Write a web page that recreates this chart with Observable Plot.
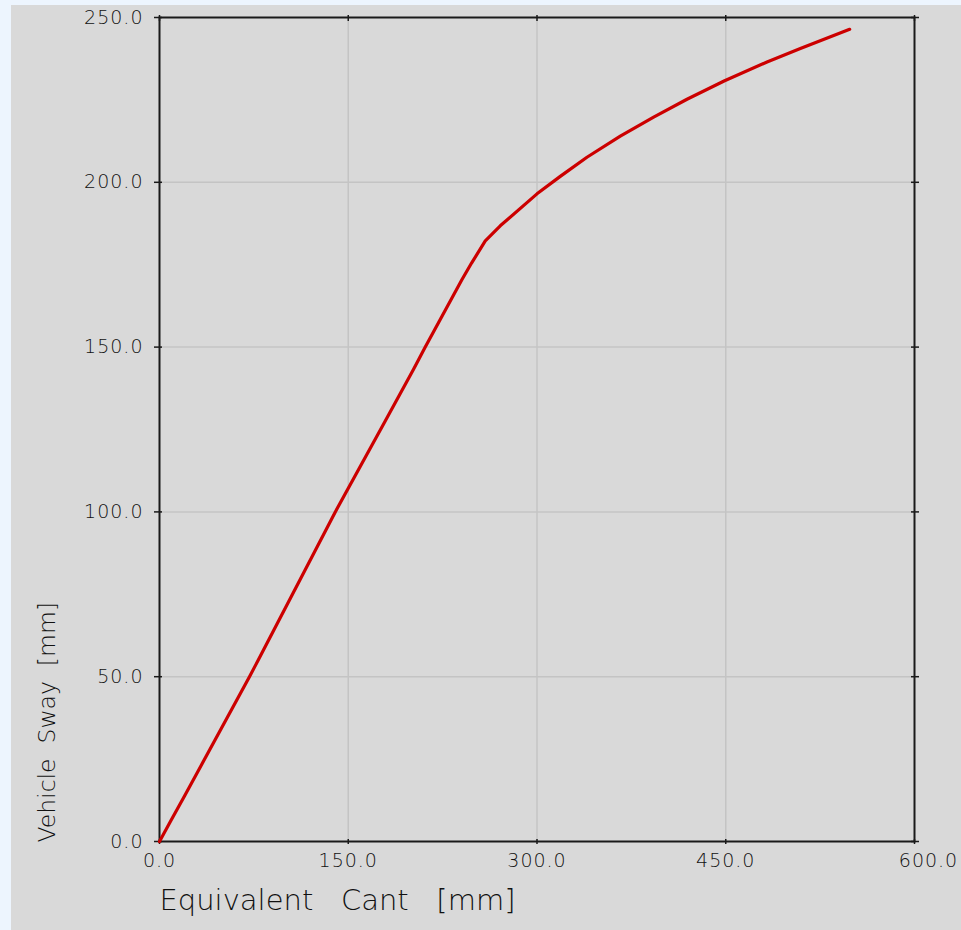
<!DOCTYPE html>
<html>
<head>
<meta charset="utf-8">
<script src="https://cdn.jsdelivr.net/npm/d3@7"></script>
<script src="https://cdn.jsdelivr.net/npm/@observablehq/plot@0.6"></script>
<style>
  html, body { margin: 0; padding: 0; background: #edf5fe; width: 961px; height: 930px; overflow: hidden; }
  #chart { position: absolute; left: 11px; top: 5px; width: 950px; height: 925px; background: #d9d9d9; }
  #chart svg { display: block; }
  #chart g[aria-label="x-axis tick label"] text,
  #chart g[aria-label="y-axis tick label"] text { letter-spacing: 1px; }
</style>
</head>
<body>
<div id="chart"></div>
<script>
// Equivalent Cant [mm]
const cant = [0, 9, 20, 33, 71.5, 78.7, 139.7, 179.4, 201.9, 211.2, 240.4, 248, 258.9, 270.8, 300, 318.5, 339.7, 366.2, 392.7, 419.2, 449.1, 482.8, 509.3, 548.5];
// Vehicle Sway [mm]
const sway = [0, 6.3, 13.9, 23, 50, 55.2, 100, 127.6, 143.3, 150, 170.5, 175.5, 182.2, 186.8, 196.5, 201.8, 207.6, 214.0, 219.8, 225.2, 230.8, 236.5, 240.6, 246.4];

const xTicks = [0, 150, 300, 450, 600];
const yTicks = [0, 50, 100, 150, 200, 250];
const xGrid = [150, 300, 450];
const yGrid = [50, 100, 150, 200];
const xLabel = "Equivalent   Cant   [mm]";
const yLabel = "Vehicle  Sway  [mm]";

const data = cant.map((c, i) => ({cant: c, sway: sway[i]}));
const fmt = d3.format(".1f");
const FONT = "'DejaVu Sans', sans-serif";

const chart = Plot.plot({
  width: 950,
  height: 925,
  marginLeft: 148,
  marginRight: 47,
  marginTop: 12,
  marginBottom: 89,
  style: {background: "transparent", fontFamily: FONT, color: "#1a1a1a", overflow: "visible"},
  x: {domain: [0, 600], label: null},
  y: {domain: [0, 250], label: null},
  marks: [
    Plot.gridX(xGrid, {stroke: "#c4c4c4", strokeOpacity: 1, strokeWidth: 1.5}),
    Plot.gridY(yGrid, {stroke: "#c4c4c4", strokeOpacity: 1, strokeWidth: 1.5}),
    // left axis: ticks crossing the frame + labels
    Plot.axisY(yTicks, {anchor: "left", tickSize: 8, dx: 3, tickPadding: 11, tickFormat: fmt, fontSize: 19, fontWeight: 200, fill: "#111", label: null, stroke: "#1a1a1a", strokeWidth: 1.5}),
    // right axis ticks
    Plot.axisY(yTicks, {anchor: "right", tickSize: 8, dx: -4, tickFormat: () => "", label: null, stroke: "#1a1a1a", strokeWidth: 1.5}),
    // top axis ticks
    Plot.axisX(xTicks, {anchor: "top", tickSize: 6, dy: 3, tickFormat: () => "", label: null, stroke: "#1a1a1a", strokeWidth: 1.5}),
    // bottom axis ticks
    Plot.axisX(xTicks, {anchor: "bottom", tickSize: 5, dy: -2, tickFormat: () => "", label: null, stroke: "#1a1a1a", strokeWidth: 1.5}),
    // bottom labels
    Plot.axisX(xTicks.slice(0, -1), {anchor: "bottom", tickSize: 0, tickPadding: 12, tickFormat: fmt, fontSize: 19, fontWeight: 200, fill: "#111", label: null}),
    Plot.axisX(xTicks.slice(-1), {anchor: "bottom", tickSize: 0, tickPadding: 12, dx: 14, tickFormat: fmt, fontSize: 19, fontWeight: 200, fill: "#111", label: null}),
    Plot.frame({stroke: "#1a1a1a", strokeWidth: 2}),
    Plot.line(data, {x: "cant", y: "sway", stroke: "#cc0000", strokeWidth: 3.2, strokeLinejoin: "round", strokeLinecap: "round"}),
    Plot.text([xLabel], {text: d => d, frameAnchor: "bottom-left", textAnchor: "start", lineAnchor: "bottom", dy: 68, fontSize: 29, fontWeight: 200, fill: "#111"}),
    Plot.text([yLabel], {text: d => d, frameAnchor: "bottom-left", textAnchor: "start", lineAnchor: "bottom", rotate: -90, dx: -105, dy: 1, fontSize: 23.5, fontWeight: 200, fill: "#111"})
  ]
});
chart.querySelectorAll("text").forEach(t => t.style.whiteSpace = "pre");
document.getElementById("chart").appendChild(chart);
</script>
</body>
</html>
